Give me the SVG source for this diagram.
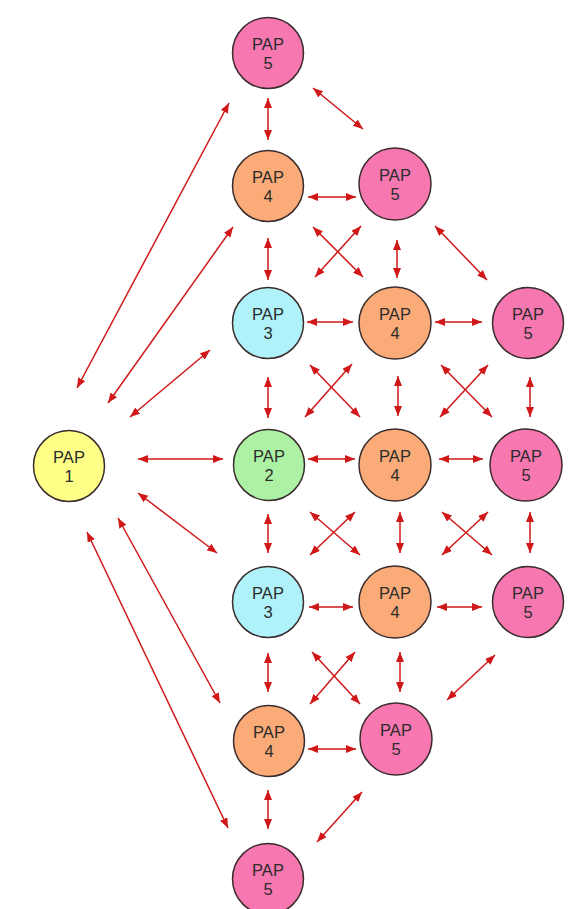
<svg xmlns="http://www.w3.org/2000/svg" width="571" height="909" viewBox="0 0 571 909">
<defs>
<marker id="ah" markerUnits="userSpaceOnUse" markerWidth="11" markerHeight="9" refX="10" refY="4" orient="auto-start-reverse">
<path d="M0,0 L10,4 L0,8 z" fill="#d01818"/>
</marker>
</defs>
<style>
.n circle{stroke:#3a2c2c;stroke-width:1.5}
.n text{font-family:"Liberation Sans",Arial,sans-serif;font-size:16.5px;fill:#2b2b2b;text-anchor:middle}
.p5{fill:#f777b0}
.p4{fill:#fbab78}
.p3{fill:#b0f2fa}
.p2{fill:#adf2a4}
.p1{fill:#ffff88}
#edges line{stroke:#d01818;stroke-width:1.5;marker-start:url(#ah);marker-end:url(#ah)}
</style>
<rect width="571" height="909" fill="#ffffff"/>
<g id="edges">
<line x1="268" y1="98" x2="268" y2="140"/>
<line x1="313" y1="88" x2="363" y2="129"/>
<line x1="229" y1="103" x2="77" y2="388"/>
<line x1="233" y1="227" x2="108" y2="403"/>
<line x1="210" y1="350" x2="130" y2="417"/>
<line x1="138" y1="459" x2="223" y2="459"/>
<line x1="138" y1="493" x2="217" y2="553"/>
<line x1="118" y1="518" x2="220" y2="703"/>
<line x1="87" y1="532" x2="228" y2="828"/>
<line x1="308" y1="197" x2="356" y2="197"/>
<line x1="268" y1="238" x2="268" y2="280"/>
<line x1="313" y1="227" x2="363" y2="277"/>
<line x1="361" y1="226" x2="315" y2="277"/>
<line x1="397" y1="240" x2="397" y2="278"/>
<line x1="435" y1="226" x2="487" y2="280"/>
<line x1="307" y1="322" x2="353" y2="322"/>
<line x1="435" y1="322" x2="482" y2="322"/>
<line x1="268" y1="377" x2="268" y2="418"/>
<line x1="310" y1="365" x2="360" y2="417"/>
<line x1="352" y1="364" x2="305" y2="417"/>
<line x1="398" y1="376" x2="398" y2="416"/>
<line x1="441" y1="365" x2="492" y2="417"/>
<line x1="488" y1="365" x2="440" y2="417"/>
<line x1="530" y1="377" x2="530" y2="417"/>
<line x1="308" y1="459" x2="355" y2="459"/>
<line x1="439" y1="459" x2="483" y2="459"/>
<line x1="268" y1="514" x2="268" y2="553"/>
<line x1="310" y1="512" x2="360" y2="555"/>
<line x1="355" y1="512" x2="310" y2="555"/>
<line x1="400" y1="512" x2="400" y2="553"/>
<line x1="442" y1="512" x2="492" y2="555"/>
<line x1="488" y1="512" x2="442" y2="555"/>
<line x1="530" y1="512" x2="530" y2="553"/>
<line x1="309" y1="607" x2="353" y2="607"/>
<line x1="437" y1="607" x2="482" y2="607"/>
<line x1="268" y1="653" x2="268" y2="692"/>
<line x1="312" y1="652" x2="360" y2="704"/>
<line x1="355" y1="652" x2="310" y2="704"/>
<line x1="400" y1="652" x2="400" y2="692"/>
<line x1="495" y1="655" x2="447" y2="700"/>
<line x1="308" y1="749" x2="356" y2="749"/>
<line x1="268" y1="790" x2="268" y2="829"/>
<line x1="362" y1="792" x2="317" y2="842"/>
</g>
<g id="n0" class="n"><circle class="p5" cx="268" cy="53" r="35.5"/><text x="268" y="50">PAP</text><text x="268" y="69">5</text></g>
<g id="n1a" class="n"><circle class="p4" cx="268" cy="186" r="35.5"/><text x="268" y="183">PAP</text><text x="268" y="202">4</text></g>
<g id="n1b" class="n"><circle class="p5" cx="395" cy="184" r="36"/><text x="395" y="181">PAP</text><text x="395" y="200">5</text></g>
<g id="n2a" class="n"><circle class="p3" cx="268" cy="323" r="35.5"/><text x="268" y="320">PAP</text><text x="268" y="339">3</text></g>
<g id="n2b" class="n"><circle class="p4" cx="395" cy="323" r="36"/><text x="395" y="320">PAP</text><text x="395" y="339">4</text></g>
<g id="n2c" class="n"><circle class="p5" cx="528" cy="323" r="35.5"/><text x="528" y="320">PAP</text><text x="528" y="339">5</text></g>
<g id="n3p1" class="n"><circle class="p1" cx="69" cy="466" r="35.5"/><text x="69" y="463">PAP</text><text x="69" y="482">1</text></g>
<g id="n3a" class="n"><circle class="p2" cx="269" cy="465" r="35.5"/><text x="269" y="462">PAP</text><text x="269" y="481">2</text></g>
<g id="n3b" class="n"><circle class="p4" cx="395" cy="465" r="36"/><text x="395" y="462">PAP</text><text x="395" y="481">4</text></g>
<g id="n3c" class="n"><circle class="p5" cx="526" cy="465" r="36"/><text x="526" y="462">PAP</text><text x="526" y="481">5</text></g>
<g id="n4a" class="n"><circle class="p3" cx="268" cy="602" r="35.5"/><text x="268" y="599">PAP</text><text x="268" y="618">3</text></g>
<g id="n4b" class="n"><circle class="p4" cx="395" cy="602" r="36"/><text x="395" y="599">PAP</text><text x="395" y="618">4</text></g>
<g id="n4c" class="n"><circle class="p5" cx="528" cy="602" r="35.5"/><text x="528" y="599">PAP</text><text x="528" y="618">5</text></g>
<g id="n5a" class="n"><circle class="p4" cx="269" cy="741" r="35.5"/><text x="269" y="738">PAP</text><text x="269" y="757">4</text></g>
<g id="n5b" class="n"><circle class="p5" cx="396" cy="739" r="36"/><text x="396" y="736">PAP</text><text x="396" y="755">5</text></g>
<g id="n6" class="n"><circle class="p5" cx="268" cy="879" r="35.5"/><text x="268" y="876">PAP</text><text x="268" y="895">5</text></g>
</svg>
